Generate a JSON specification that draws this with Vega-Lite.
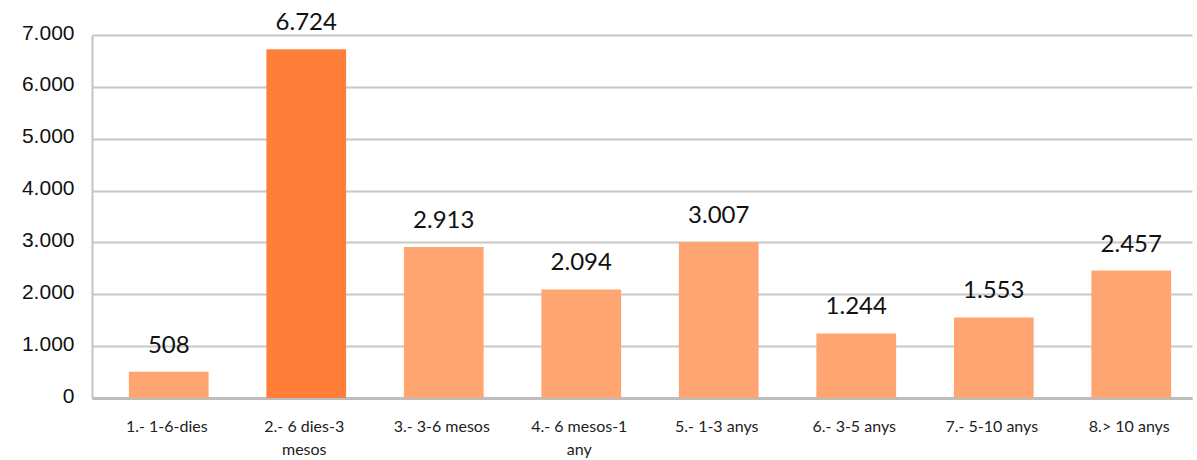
{
  "$schema": "https://vega.github.io/schema/vega-lite/v6.json",
  "autosize": {"type": "none"},
  "padding": {"left": 92, "top": 35, "right": 5, "bottom": 62},
  "width": 1100,
  "height": 363,
  "background": "white",
  "data": {"values": [
    {"cat": "1.- 1-6-dies", "value": 508, "hl": "no"},
    {"cat": "2.- 6 dies-3 mesos", "value": 6724, "hl": "yes"},
    {"cat": "3.- 3-6 mesos", "value": 2913, "hl": "no"},
    {"cat": "4.- 6 mesos-1 any", "value": 2094, "hl": "no"},
    {"cat": "5.- 1-3 anys", "value": 3007, "hl": "no"},
    {"cat": "6.- 3-5 anys", "value": 1244, "hl": "no"},
    {"cat": "7.- 5-10 anys", "value": 1553, "hl": "no"},
    {"cat": "8.> 10 anys", "value": 2457, "hl": "no"}
  ]},
  "config": {
    "view": {"stroke": null},
    "locale": {"number": {"decimal": ",", "thousands": ".", "grouping": [3], "currency": ["", "€"]}}
  },
  "encoding": {
    "x": {"field": "cat", "type": "nominal", "sort": null,
      "scale": {"paddingInner": 0.42, "paddingOuter": 0.21},
      "axis": {"title": null, "labelAngle": 0, "labelFont": "Lato", "labelFontSize": 16, "labelColor": "#222",
        "labelPadding": 20, "labelLineHeight": 23, "labelOffset": 6, "ticks": false, "domainColor": "#bdbdbd", "domainWidth": 3,
        "labelExpr": "datum.label == '2.- 6 dies-3 mesos' ? ['2.- 6 dies-3', 'mesos'] : datum.label == '4.- 6 mesos-1 any' ? ['4.- 6 mesos-1', 'any'] : datum.label"}},
    "y": {"field": "value", "type": "quantitative",
      "scale": {"domain": [0, 7000], "nice": false},
      "axis": {"title": null, "values": [0, 1000, 2000, 3000, 4000, 5000, 6000, 7000], "format": ",.0f",
        "labelFont": "Liberation Sans", "labelFontSize": 21, "labelColor": "#111", "labelPadding": 18, "labelOffset": -2,
        "ticks": false, "domainColor": "#c4c4c4", "domainWidth": 2, "gridColor": "#c8c8c8", "gridWidth": 2}}
  },
  "layer": [
    {"mark": {"type": "bar", "xOffset": 8},
      "encoding": {"color": {"field": "hl", "type": "nominal", "legend": null,
        "scale": {"domain": ["no", "yes"], "range": ["#FFA572", "#FF7F3A"]}}}},
    {"mark": {"type": "text", "baseline": "bottom", "dy": -14, "xOffset": 8, "font": "Lato", "fontSize": 24, "color": "#111"},
      "encoding": {"text": {"field": "value", "type": "quantitative", "format": ",.0f"}}}
  ]
}
